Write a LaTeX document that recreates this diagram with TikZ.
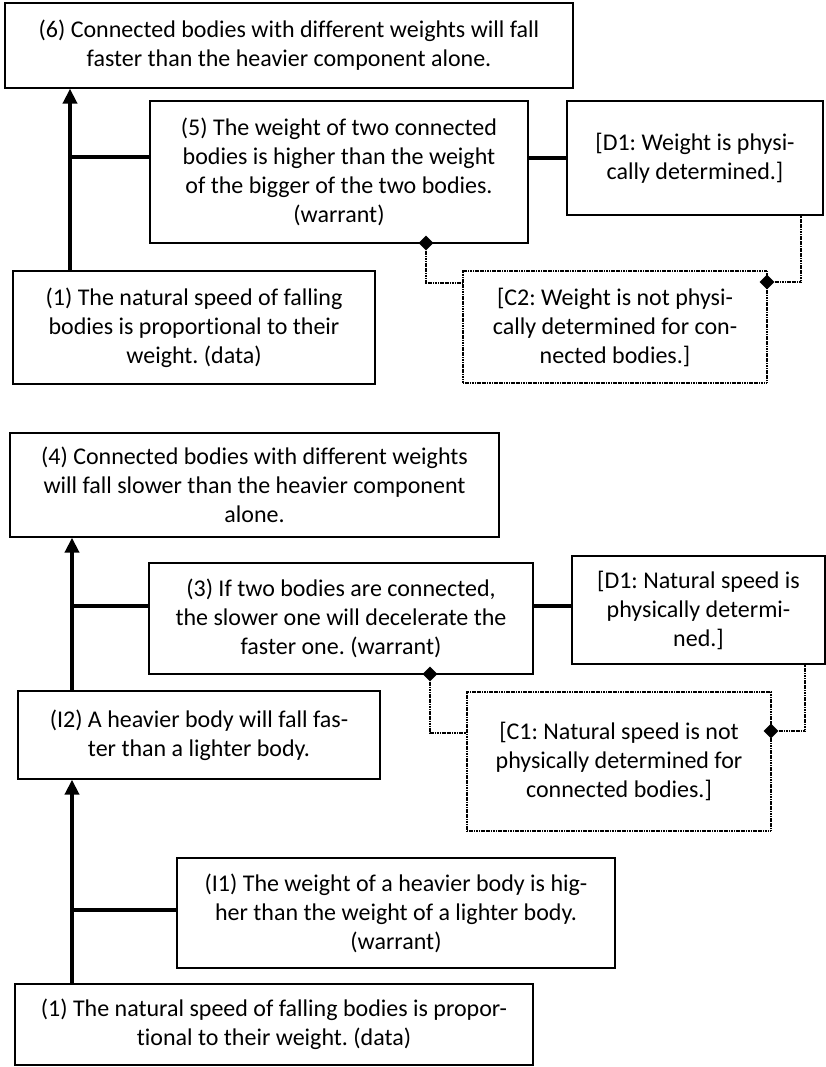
\documentclass[tikz,border=0pt]{standalone}
\usepackage{fontspec}
\setmainfont{Carlito}[Ligatures=NoCommon]
\frenchspacing
\usetikzlibrary{arrows.meta, shapes.geometric}

\begin{document}
\begin{tikzpicture}[x=1pt, y=-1pt,
		box/.style={draw, line width=1.3pt, align=center, inner sep=0pt, font=\fontsize{24}{29}\selectfont},
		dotline/.style={line width=1.7pt, dash pattern=on 1.2pt off 0.5pt},
		dotbox/.style={box, dotline},
		link/.style={line width=4.7pt},
		support/.style={link, -{Triangle[width=14pt,length=15pt]}},
		knob/.style={diamond, fill, inner sep=0pt, minimum width=15pt, minimum height=15pt}]
	\useasboundingbox (0,0) rectangle (826,1067);
	% first argument: (1) + (5) -> (6)
	\node[box, minimum width=568, minimum height=85] (claim6) at (289,45.5) {(6) Connected bodies with different weights will fall\\faster than the heavier component alone.};
	\node[box, minimum width=378, minimum height=142] (warrant5) at (339,172) {(5) The weight of two connected\\bodies is higher than the weight\\of the bigger of the two bodies.\\(warrant)};
	\node[box, minimum width=256, minimum height=114] (defeatW) at (695,158) {[D1: Weight is physi-\\cally determined.]};
	\node[dotbox, minimum width=304, minimum height=112] (condW) at (615,327) {[C2: Weight is not physi-\\cally determined for con-\\nected bodies.]};
	\node[box, minimum width=362, minimum height=113] (data1) at (194,327.5) {(1) The natural speed of falling\\bodies is proportional to their\\weight. (data)};
	\coordinate (spineA) at (70,157);
	\draw[support] (data1.north -| spineA) -- (claim6.south -| spineA);
	\draw[link] (spineA) -- (spineA -| warrant5.west);
	\draw[link] (warrant5.east |- defeatW.west) -- (defeatW.west);
	\node[knob] (knobA) at (426,243) {};
	\node[knob] (knobB) at (767,282) {};
	\coordinate (kinkA) at (426,283);
	\coordinate (kinkB) at (801,282);
	\draw[dotline] (knobA.south) -- (kinkA) -- (kinkA -| condW.west);
	\draw[dotline] (knobB.east) -- (kinkB) -- (kinkB |- defeatW.south);
	% second argument: (1) + (I1) -> (I2), (I2) + (3) -> (4)
	\node[box, minimum width=489, minimum height=104] (claim4) at (254.5,485) {(4) Connected bodies with different weights\\will fall slower than the heavier component\\alone.};
	\node[box, minimum width=384, minimum height=111] (warrant3) at (341,618.5) {(3) If two bodies are connected,\\the slower one will decelerate the\\faster one. (warrant)};
	\node[box, minimum width=253, minimum height=108] (defeatS) at (698.5,610) {[D1: Natural speed is\\physically determi-\\ned.]};
	\node[dotbox, minimum width=304, minimum height=139] (condS) at (619,761.5) {[C1: Natural speed is not\\physically determined for\\connected bodies.]};
	\node[box, minimum width=362, minimum height=88] (inter2) at (199,735) {(I2) A heavier body will fall fas-\\ter than a lighter body.};
	\node[box, minimum width=438, minimum height=110] (warrant1) at (396,913) {(I1) The weight of a heavier body is hig-\\her than the weight of a lighter body.\\(warrant)};
	\node[box, minimum width=518, minimum height=81] (data1b) at (274,1024.5) {(1) The natural speed of falling bodies is propor-\\tional to their weight. (data)};
	\coordinate (spineB) at (72,606);
	\coordinate (spineC) at (72,910);
	\draw[support] (inter2.north -| spineB) -- (claim4.south -| spineB);
	\draw[support] (data1b.north -| spineC) -- (inter2.south -| spineC);
	\draw[link] (spineB) -- (spineB -| warrant3.west);
	\draw[link] (warrant3.east |- spineB) -- (spineB -| defeatS.west);
	\draw[link] (spineC) -- (spineC -| warrant1.west);
	\node[knob] (knobC) at (430,674) {};
	\node[knob] (knobD) at (771,731) {};
	\coordinate (kinkC) at (430,733);
	\coordinate (kinkD) at (805,731);
	\draw[dotline] (knobC.south) -- (kinkC) -- (kinkC -| condS.west);
	\draw[dotline] (knobD.east) -- (kinkD) -- (kinkD |- defeatS.south);
\end{tikzpicture}
\end{document}
